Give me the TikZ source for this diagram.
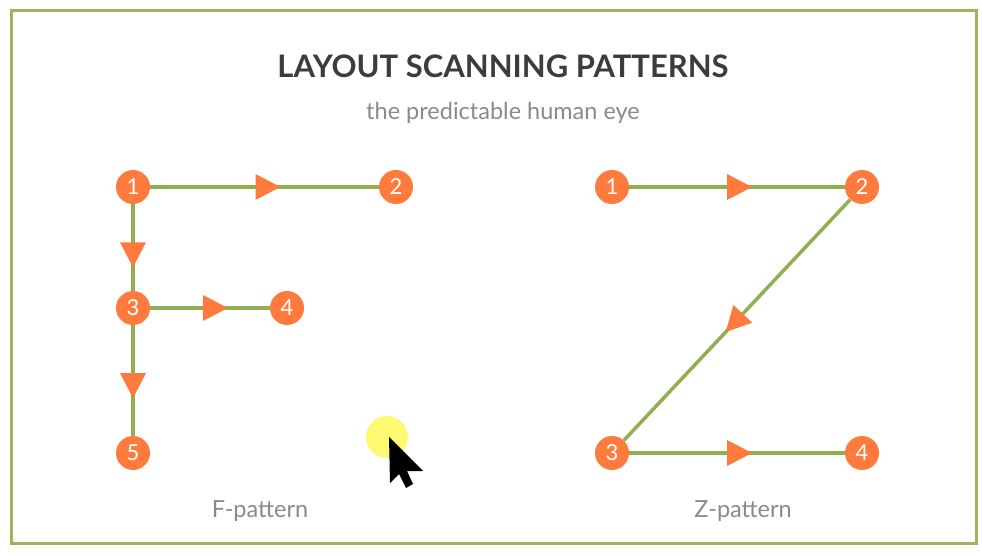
\documentclass[tikz,border=0pt]{standalone}
\usepackage{fontspec}
\setmainfont{Lato}
\usepackage{xcolor}
\usetikzlibrary{arrows.meta}
\usetikzlibrary{decorations.markings}
\definecolor{dotorange}{HTML}{FF7A3D}
\definecolor{linegreen}{HTML}{8FAF50}
\definecolor{framegreen}{HTML}{9BB55A}
\definecolor{titlegray}{HTML}{3C3C3C}
\definecolor{subgray}{HTML}{8A8A8A}

\begin{document}
\begin{tikzpicture}[
  x=1pt, y=-1pt,
  dot/.style={circle, fill=dotorange, minimum size=34pt, inner sep=0pt, text=white, font=\fontsize{22}{22}\selectfont},
  flow/.style={draw=linegreen, line width=3.5pt,
    postaction={decorate, decoration={markings,
      mark=at position #1 with {\arrow{Triangle[length=25pt, width=25pt, color=dotorange]}}}}},
  flow/.default=0.55,
  caption/.style={text=subgray, font=\fontsize{23.5}{23.5}\selectfont}
]
\useasboundingbox (0,0) rectangle (982,556);
\draw[framegreen, line width=3pt] (11,11) rectangle (976,543);

\node[text=titlegray, font=\fontsize{31}{31}\selectfont\bfseries] (title) at (503,66) {LAYOUT SCANNING PATTERNS};
\node[caption] (subtitle) at (503,113) {the predictable human eye};

% F-pattern
\node[dot] (f1) at (133,187) {1};
\node[dot] (f2) at (396,187) {2};
\node[dot] (f3) at (133,308) {3};
\node[dot] (f4) at (287,308) {4};
\node[dot] (f5) at (133,453) {5};
\draw[flow=0.57] (f1) -- (f2);
\draw[flow=0.73] (f1) -- (f3);
\draw[flow=0.65] (f3) -- (f4);
\draw[flow=0.66] (f3) -- (f5);
\node[caption] (flabel) at (260,511) {F-pattern};

% Z-pattern
\node[dot] (z1) at (612,187) {1};
\node[dot] (z2) at (862,187) {2};
\node[dot] (z3) at (612,453) {3};
\node[dot] (z4) at (862,453) {4};
\draw[flow=0.57] (z1) -- (z2);
\draw[flow=0.55] (z2) -- (z3);
\draw[flow=0.57] (z3) -- (z4);
\node[caption] (zlabel) at (743,511) {Z-pattern};

% pointer
\fill[yellow!70!white, opacity=0.8] (387,437) circle (21);
\fill[black] (389,437) -- (390,483) -- (399,474) -- (406,488) -- (413,484) -- (407,471) -- (423,471) -- cycle;
\end{tikzpicture}
\end{document}
